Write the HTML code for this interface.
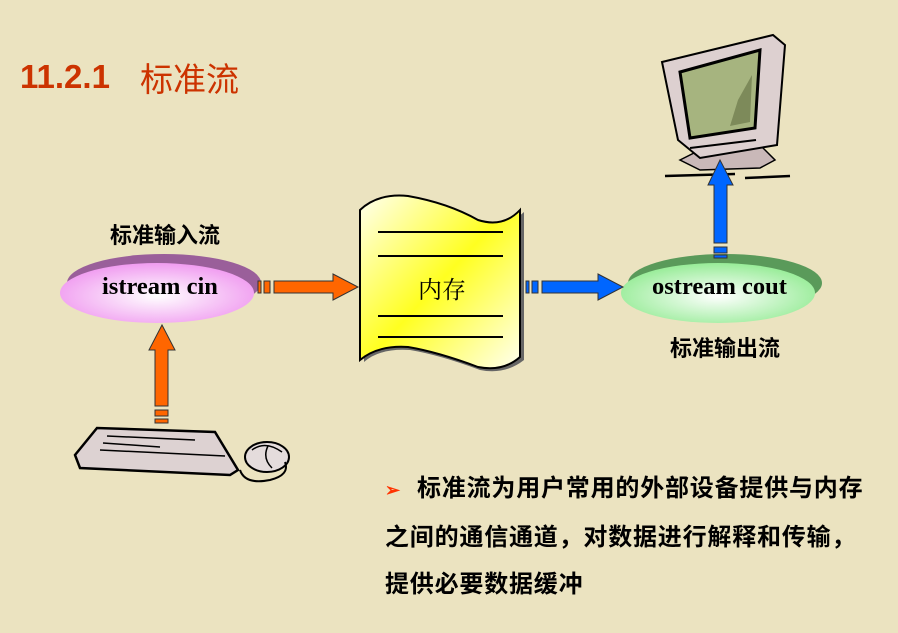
<!DOCTYPE html>
<html><head><meta charset="utf-8"><style>
body{margin:0;width:898px;height:633px;background:#ebe3c0;position:relative;overflow:hidden;font-family:"Liberation Sans","Noto Sans CJK SC",sans-serif}
.t{position:absolute;white-space:nowrap}
</style></head><body>
<svg width="898" height="633" style="position:absolute;left:0;top:0">
<defs>
<radialGradient id="pk" cx="50%" cy="55%" r="55%"><stop offset="0" stop-color="#fff"/><stop offset="1" stop-color="#f09cf0"/></radialGradient>
<radialGradient id="gr" cx="50%" cy="55%" r="55%"><stop offset="0" stop-color="#fff"/><stop offset="1" stop-color="#98ec98"/></radialGradient>
<linearGradient id="yl" x1="0" y1="0" x2="1" y2="1"><stop offset="0" stop-color="#fffff0"/><stop offset="0.5" stop-color="#ffff20"/><stop offset="1" stop-color="#fffff0"/></linearGradient>
</defs>
<ellipse cx="164" cy="283" rx="97" ry="29" fill="#9a5f9a"/>
<ellipse cx="157" cy="293" rx="97" ry="30" fill="url(#pk)"/>
<ellipse cx="725" cy="283" rx="97" ry="29" fill="#5a9a5a"/>
<ellipse cx="718" cy="293" rx="97" ry="30" fill="url(#gr)"/>
<path d="M364 212 Q380 195 410 198 Q450 205 480 222 Q505 230 524 212 L524 360 Q505 375 480 370 Q440 355 410 350 Q380 348 364 362 Z" fill="#666"/>
<path d="M360 210 Q378 193 408 196 Q448 203 478 220 Q503 228 520 210 L520 357 Q503 372 478 367 Q438 352 408 347 Q378 345 360 360 Z" fill="url(#yl)" stroke="#000" stroke-width="2"/>
<g stroke="#000" stroke-width="2"><line x1="378" y1="232" x2="503" y2="232"/><line x1="378" y1="256" x2="503" y2="256"/><line x1="378" y1="316" x2="503" y2="316"/><line x1="378" y1="337" x2="503" y2="337"/></g>
<g fill="#ff6600" stroke="#333" stroke-width="1">
<rect x="258" y="281" width="3" height="12"/><rect x="264" y="281" width="6" height="12"/>
<path d="M274 281 H333 V274 L358 287 L333 300 V293 H274 Z"/>
<rect x="155" y="419" width="13" height="4"/><rect x="155" y="410" width="13" height="6"/>
<path d="M155 406 V350 H149 L162 325 L175 350 H168 V406 Z"/>
</g>
<path d="M680 160 L700 150 L760 145 L775 160 L760 168 L700 170 Z" fill="#c9b8b8" stroke="#000" stroke-width="1.5"/>
<path d="M662 62 L773 35 L785 45 L777 145 L700 158 L678 140 Z" fill="#ddd0d0" stroke="#000" stroke-width="2"/>
<path d="M680 72 L760 50 L755 128 L690 138 Z" fill="#a6b47f" stroke="#000" stroke-width="3"/>
<path d="M738 100 L752 75 L750 122 L730 126 Z" fill="#7d8a5a"/>
<g stroke="#000" stroke-width="2"><line x1="690" y1="148" x2="756" y2="140"/></g>
<line x1="665" y1="176" x2="735" y2="174" stroke="#000" stroke-width="2.5"/>
<line x1="745" y1="178" x2="790" y2="176" stroke="#000" stroke-width="2.5"/>
<g fill="#0066ff" stroke="#333" stroke-width="1">
<rect x="526" y="281" width="3" height="12"/><rect x="532" y="281" width="6" height="12"/>
<path d="M542 281 H598 V274 L623 287 L598 300 V293 H542 Z"/>
<rect x="714" y="255" width="13" height="3"/><rect x="714" y="247" width="13" height="6"/>
<path d="M714 243 V185 H708 L720 160 L733 185 H727 V243 Z"/>
</g>
<path d="M75 455 L97 428 L215 432 L238 470 L230 475 L80 468 Z" fill="#ddd2d2" stroke="#000" stroke-width="2.5"/>
<g stroke="#000" stroke-width="1.5"><line x1="107" y1="436" x2="195" y2="440"/><line x1="103" y1="443" x2="160" y2="447"/><line x1="100" y1="450" x2="225" y2="456"/></g>
<ellipse cx="267" cy="457" rx="22" ry="15" fill="#e4dcdc" stroke="#000" stroke-width="2"/>
<path d="M252 450 Q265 440 282 452 M268 446 Q262 458 272 468" fill="none" stroke="#000" stroke-width="1.5"/>
<path d="M240 470 Q245 485 270 480 Q290 475 285 462" fill="none" stroke="#000" stroke-width="2"/>
</svg>
<div class="t" style="left:20px;top:58px;font-size:33px;font-weight:bold;color:#cc3300">11.2.1</div>
<div class="t" style="left:140px;top:53px;font-size:33px;color:#cc3300">标准流</div>
<div class="t" style="left:110px;top:218px;font-size:22px;font-weight:bold">标准输入流</div>
<div class="t" style="left:102px;top:273px;font-size:24.5px;font-weight:bold;font-family:'Liberation Serif',serif">istream cin</div>
<div class="t" style="left:418px;top:270px;font-size:24px;font-family:'Liberation Serif','Noto Serif CJK SC',serif">内存</div>
<div class="t" style="left:652px;top:273px;font-size:24.5px;font-weight:bold;font-family:'Liberation Serif',serif">ostream cout</div>
<div class="t" style="left:670px;top:331px;font-size:22px;font-weight:bold">标准输出流</div>
<div class="t" style="left:385px;top:465px;font-size:24px;font-weight:bold;line-height:47px;letter-spacing:0.8px"><span style="color:#ff3300;font-size:18px;letter-spacing:0;display:inline-block;width:32px">➢</span>标准流为用户常用的外部设备提供与内存<br>之间的通信通道，对数据进行解释和传输，<br>提供必要数据缓冲</div>
</body></html>
